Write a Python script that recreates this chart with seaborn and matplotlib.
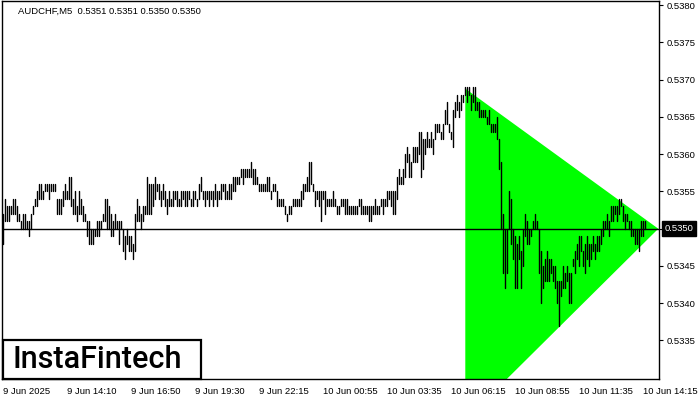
import numpy as np
import pandas as pd
import seaborn as sns
import matplotlib.pyplot as plt
from matplotlib.patches import Polygon, Rectangle
import matplotlib.transforms as mtransforms

# AUDCHF M5 bars, high / low in units of 0.0001
highs = [
    5352, 5354, 5353, 5353, 5353, 5354, 5354, 5353, 5352, 5351,
    5352, 5352, 5351, 5351, 5352, 5353, 5354, 5355, 5356, 5356,
    5355, 5356, 5356, 5356, 5356, 5356, 5356, 5354, 5354, 5354,
    5355, 5356, 5355, 5357, 5357, 5354, 5355, 5353, 5355, 5354,
    5353, 5352, 5351, 5351, 5350, 5350, 5350, 5351, 5351, 5351,
    5352, 5354, 5354, 5353, 5352, 5351, 5352, 5351, 5351, 5351,
    5350, 5349, 5350, 5349, 5349,
    5348, 5352, 5354, 5353, 5352, 5353, 5353, 5357, 5356, 5356,
    5356, 5357, 5356, 5356, 5355, 5356, 5355, 5354, 5355, 5354,
    5355, 5355, 5355, 5354, 5355, 5355, 5355, 5355, 5355, 5354,
    5355, 5355, 5354, 5356, 5357, 5355, 5355, 5355, 5355, 5355,
    5355, 5356, 5355, 5355, 5356, 5356, 5356, 5355, 5356, 5356,
    5357, 5357, 5357, 5357, 5358, 5358, 5358, 5358, 5358, 5359,
    5358, 5358, 5357, 5356, 5356,
    5356, 5356, 5357, 5357, 5355, 5356, 5356, 5355, 5354, 5354,
    5354, 5353, 5352, 5353, 5353, 5354, 5354, 5354, 5354, 5355,
    5356, 5356, 5357, 5359, 5359, 5356, 5355, 5355, 5355, 5355,
    5355, 5355, 5354, 5354, 5354, 5355, 5354, 5353, 5353, 5354,
    5354, 5354, 5354, 5353, 5353, 5353, 5353, 5353, 5354, 5354,
    5353, 5353, 5353, 5353, 5353, 5353, 5354, 5353, 5353, 5354,
    5354, 5354, 5355, 5355, 5355,
    5355, 5355, 5357, 5358, 5357, 5358, 5360, 5361, 5360, 5359,
    5361, 5361, 5361, 5363, 5363, 5362, 5362, 5363, 5362, 5363,
    5362, 5364, 5364, 5364, 5363, 5364, 5366, 5367, 5364, 5363,
    5366, 5367, 5368, 5367, 5368, 5368,
    5369, 5369, 5369, 5368, 5369, 5369, 5367, 5367, 5366, 5366,
    5366, 5365, 5366, 5364, 5364, 5364, 5365, 5362, 5359, 5352,
    5350, 5350, 5355, 5354, 5350, 5349, 5348, 5349, 5347, 5350,
    5352, 5351, 5350, 5350, 5351, 5352, 5351, 5350, 5347, 5345,
    5346, 5347, 5346, 5346, 5345, 5345, 5343, 5343, 5343, 5345,
    5344, 5345, 5344, 5344, 5346, 5347, 5348, 5349, 5349, 5347,
    5348, 5349, 5348, 5348, 5349, 5348, 5349, 5349, 5350, 5351,
    5351, 5352, 5351, 5353, 5353, 5353, 5353, 5354, 5354, 5353,
    5352, 5352, 5351, 5351, 5350, 5350, 5350, 5350, 5351, 5351,
    5351,
]
lows = [
    5348, 5351, 5351, 5351, 5352, 5352, 5352, 5351, 5351, 5350,
    5350, 5350, 5350, 5349, 5350, 5352, 5353, 5353, 5354, 5354,
    5354, 5355, 5355, 5354, 5355, 5355, 5355, 5352, 5352, 5352,
    5353, 5354, 5354, 5354, 5353, 5352, 5352, 5351, 5352, 5352,
    5351, 5351, 5349, 5348, 5348, 5348, 5349, 5349, 5349, 5350,
    5351, 5351, 5350, 5350, 5349, 5349, 5350, 5350, 5348, 5350,
    5347, 5346, 5348, 5347, 5347,
    5346, 5347, 5351, 5351, 5350, 5351, 5352, 5352, 5352, 5352,
    5353, 5354, 5355, 5354, 5353, 5354, 5353, 5352, 5353, 5353,
    5353, 5354, 5353, 5353, 5353, 5354, 5353, 5353, 5354, 5353,
    5353, 5354, 5353, 5354, 5355, 5354, 5353, 5354, 5353, 5354,
    5353, 5354, 5353, 5354, 5354, 5355, 5354, 5354, 5354, 5354,
    5355, 5355, 5356, 5356, 5357, 5356, 5357, 5357, 5357, 5357,
    5356, 5356, 5356, 5355, 5355,
    5355, 5355, 5355, 5355, 5354, 5355, 5355, 5353, 5353, 5353,
    5353, 5352, 5351, 5352, 5352, 5353, 5353, 5353, 5353, 5353,
    5354, 5355, 5355, 5355, 5356, 5355, 5353, 5354, 5353, 5351,
    5354, 5352, 5353, 5353, 5353, 5353, 5353, 5352, 5352, 5353,
    5353, 5352, 5352, 5352, 5352, 5352, 5352, 5352, 5353, 5352,
    5352, 5352, 5352, 5351, 5351, 5352, 5352, 5352, 5352, 5353,
    5352, 5353, 5353, 5354, 5353,
    5352, 5352, 5354, 5356, 5356, 5356, 5357, 5359, 5357, 5357,
    5359, 5359, 5359, 5360, 5357, 5358, 5360, 5361, 5361, 5361,
    5360, 5362, 5363, 5363, 5362, 5362, 5364, 5364, 5363, 5362,
    5361, 5365, 5366, 5365, 5366, 5367,
    5368, 5367, 5368, 5366, 5367, 5366, 5366, 5365, 5365, 5365,
    5365, 5364, 5364, 5363, 5363, 5363, 5362, 5358, 5350, 5344,
    5342, 5344, 5350, 5348, 5346, 5342, 5342, 5346, 5342, 5345,
    5349, 5348, 5348, 5349, 5350, 5350, 5350, 5344, 5340, 5342,
    5343, 5343, 5343, 5344, 5343, 5342, 5340, 5337, 5341, 5342,
    5342, 5343, 5340, 5340, 5345, 5344, 5346, 5345, 5347, 5345,
    5344, 5346, 5345, 5346, 5347, 5346, 5347, 5347, 5348, 5349,
    5350, 5350, 5349, 5351, 5351, 5352, 5351, 5352, 5353, 5351,
    5350, 5351, 5350, 5349, 5349, 5348, 5348, 5347, 5349, 5349,
    5350,
]

# triangle pattern (bar index, price)
pattern_start = 231
pattern_apex = 327.5
pattern_top = 0.53688
pattern_bottom = 0.53243
current_price = 0.5350

time_labels = ["9 Jun 2025", "9 Jun 14:10", "9 Jun 16:50", "9 Jun 19:30",
               "9 Jun 22:15", "10 Jun 00:55", "10 Jun 03:35", "10 Jun 06:15",
               "10 Jun 08:55", "10 Jun 11:35", "10 Jun 14:15"]
price_ticks = [0.5335, 0.5340, 0.5345, 0.5350, 0.5355,
               0.5360, 0.5365, 0.5370, 0.5375, 0.5380]

n = len(highs)
bars = pd.DataFrame({
    "bar": np.repeat(np.arange(n), 2),
    "price": np.ravel(np.column_stack([highs, lows])) / 10000,
})

sns.set_style("white")
plt.rcParams["font.family"] = ["Liberation Sans", "DejaVu Sans"]

fig = plt.figure(figsize=(7, 4), dpi=100)
ax = fig.add_axes([2 / 700, 21 / 400, 657.3 / 700, 378.5 / 400])

tri = Polygon([(pattern_start, pattern_top), (pattern_apex, current_price),
               (pattern_start, pattern_bottom)],
              closed=True, facecolor="#00ff00", edgecolor="none", zorder=1)
ax.add_patch(tri)

sns.lineplot(data=bars, x="bar", y="price", units="bar", estimator=None,
             sort=False, color="black", linewidth=1.0, legend=False, ax=ax,
             zorder=3)

ax.axhline(current_price, color="black", linewidth=1.0, zorder=4)

ax.set_xlim(-0.65, 328)
ax.set_ylim(0.532983, 0.538063)

ax.yaxis.tick_right()
ax.set_yticks(price_ticks)
# the current price tick is labelled by the black box below
ax.set_yticklabels(["" if p == current_price else f"{p:.4f}"
                    for p in price_ticks])
ax.set_xticks(np.arange(len(time_labels)) * 32)
ax.set_xticklabels(time_labels, ha="left")
ax.tick_params(axis="both", direction="out", length=3, width=0.8,
               colors="black", labelsize=6.8, pad=2)
ax.tick_params(axis="x", pad=3)
ax.set_xlabel("")
ax.set_ylabel("")
for s in ax.spines.values():
    s.set_color("black")
    s.set_linewidth(1.0)

# current price label on the scale
trans = mtransforms.blended_transform_factory(ax.transAxes, ax.transData)
ax.text(1.008, current_price, f"{current_price:.4f}", transform=trans,
        ha="left", va="center", color="white", fontsize=6.8, zorder=6,
        bbox=dict(boxstyle="square,pad=0.3", fc="black", ec="black"))

fig.text(18 / 700, 1 - 11 / 400,
         "AUDCHF,M5  0.5351 0.5351 0.5350 0.5350",
         ha="left", va="center", fontsize=6.8, color="black")

# logo box
logo = Rectangle((3 / 700, 21 / 400), 198 / 700, 39 / 400,
                 transform=fig.transFigure, facecolor="white",
                 edgecolor="black", linewidth=1.6, zorder=5)
fig.add_artist(logo)
fig.text(97 / 700, 40 / 400, "InstaFintech", ha="center", va="center",
         fontsize=22, fontweight="medium", color="black",
         family=["Roboto", "DejaVu Sans"], zorder=6)

fig.savefig("out.png", dpi=100)
